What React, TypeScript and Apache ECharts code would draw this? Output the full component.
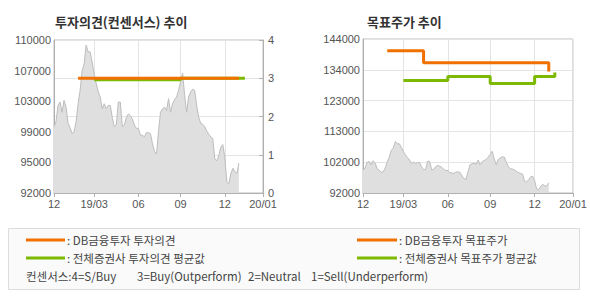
import React, { useEffect, useRef } from "react";
import * as echarts from "echarts";

// x axis: trading-day slots, labels at chosen slots
const slotCount = 105;
const tickIdx = [0, 20, 42, 63, 85, 104];
const tickLabels = ["12", "19/03", "06", "09", "12", "20/01"];

// stock price (same series in both panels)
const price = [
  99800, 100400, 102300, 102700, 101500, 102900, 102100, 100200, 99700, 99000,
  99200, 100400, 102500, 104100, 106400, 107200, 109400, 108600, 108600, 107400,
  106000, 104900, 103900, 103300, 101900, 102500, 101900, 102300, 102300, 100900,
  99800, 100000, 102700, 102700, 99800, 100000, 100900, 101300, 101100, 100700,
  100000, 99600, 99600, 98800, 98800, 98600, 99100, 99100, 99000, 97800,
  96900, 96600, 99200, 101500, 101900, 102100, 101700, 103100, 101500, 102500,
  103000, 103300, 104100, 105100, 106100, 103500, 101500, 103300, 103900, 104200,
  104100, 102300, 100900, 100200, 100100, 99800, 99300, 98900, 98600, 98400,
  96000, 95800, 96400, 97400, 97700, 96200, 93300, 93100, 94300, 94900,
  94500, 94300, 95500,
];

// left panel axis labels
const leftPriceLabels = ["92000", "95000", "99000", "103000", "107000", "110000"];
const opinionMin = 0;
const opinionMax = 4;

// right panel axis labels
const rightPriceLabels = ["92000", "102000", "113000", "123000", "134000", "144000"];

// investment opinion (step changes: slot, value)
const dbOpinionSlots = [12, 92];
const dbOpinionValues = [3, 3];
const avgOpinionSlots = [20, 63, 95];
const avgOpinionValues = [2.96, 3, 3];

// target price (step changes: slot, value)
const dbTargetSlots = [12, 30, 92];
const dbTargetValues = [140000, 136000, 133000];
const avgTargetSlots = [20, 42, 63, 85, 95];
const avgTargetValues = [130000, 131300, 129000, 131300, 132700];

const ORANGE = "#f07000";
const GREEN = "#7cb900";
const LABEL_FONT = "Liberation Sans, Arial, sans-serif";
const KR_FONT = "'Noto Sans CJK KR', sans-serif";

const pairs = (xs: number[], ys: number[]) => xs.map((x, i) => [x, ys[i]]);

export default function App() {
  const ref = useRef<HTMLDivElement>(null);
  useEffect(() => {
    if (!ref.current) return;
    const chart = echarts.init(ref.current, null, { renderer: "svg", width: 590, height: 300 });
    const cats = Array.from({ length: slotCount }, (_, i) => String(i));
    const showTick = (index: number) => tickIdx.includes(index);
    const xAxisBase = (gridIndex: number) => ({
      type: "category",
      gridIndex,
      data: cats,
      boundaryGap: false,
      axisLine: { lineStyle: { color: "#b0b0b0" } },
      axisTick: { interval: showTick, length: 4, lineStyle: { color: "#b0b0b0" } },
      axisLabel: {
        interval: showTick,
        formatter: (_v: string, i: number) => tickLabels[tickIdx.indexOf(i)] ?? "",
        color: "#555",
        fontSize: 11,
        fontFamily: LABEL_FONT,
        margin: 5,
      },
      splitLine: { show: true, interval: showTick, lineStyle: { color: "#e4e4e4" } },
    });

    const legendText = (x: number, y: number, text: string) => ({
      type: "text",
      x,
      y,
      style: { text, fontSize: 11.5, fontFamily: KR_FONT, fill: "#444", verticalAlign: "middle" },
    });

    const option: any = {
      animation: false,
      grid: [
        { left: 54, top: 40, width: 209, height: 153, show: true, borderColor: "#bdbdbd", borderWidth: 1 },
        { left: 363, top: 39, width: 210, height: 154, show: true, borderColor: "#bdbdbd", borderWidth: 1 },
      ],
      xAxis: [xAxisBase(0), xAxisBase(1)],
      yAxis: [
        {
          type: "category",
          gridIndex: 0,
          position: "left",
          data: leftPriceLabels,
          boundaryGap: false,
          axisLine: { lineStyle: { color: "#b0b0b0" } },
          axisTick: { show: false },
          axisLabel: { interval: 0, color: "#555", fontSize: 11, fontFamily: LABEL_FONT, margin: 3 },
          splitLine: { show: false },
        },
        {
          type: "value",
          gridIndex: 0,
          position: "right",
          min: opinionMin,
          max: opinionMax,
          interval: 1,
          axisLine: { show: true, lineStyle: { color: "#b0b0b0" } },
          axisTick: { show: true, inside: true, length: 4, lineStyle: { color: "#b0b0b0" } },
          axisLabel: { color: "#555", fontSize: 11, fontFamily: LABEL_FONT, margin: 5 },
          splitLine: { show: true, lineStyle: { color: "#e4e4e4" } },
        },
        { type: "value", gridIndex: 0, show: false, min: 92000, max: 110000 },
        {
          type: "category",
          gridIndex: 1,
          position: "left",
          data: rightPriceLabels,
          boundaryGap: false,
          axisLine: { lineStyle: { color: "#b0b0b0" } },
          axisTick: { show: false },
          axisLabel: { interval: 0, color: "#555", fontSize: 11, fontFamily: LABEL_FONT, margin: 3 },
          splitLine: { show: true, interval: 0, lineStyle: { color: "#e4e4e4" } },
        },
        { type: "value", gridIndex: 1, show: false, min: 92000, max: 144000 },
      ],
      series: [
        {
          type: "line",
          xAxisIndex: 0,
          yAxisIndex: 2,
          data: price,
          symbol: "none",
          lineStyle: { color: "#bdbdbd", width: 1 },
          areaStyle: { color: "#dfdfdf", opacity: 1 },
          z: 1,
        },
        {
          type: "line",
          xAxisIndex: 0,
          yAxisIndex: 1,
          data: pairs(avgOpinionSlots, avgOpinionValues),
          step: "end",
          symbol: "none",
          lineStyle: { color: GREEN, width: 3 },
          z: 3,
        },
        {
          type: "line",
          xAxisIndex: 0,
          yAxisIndex: 1,
          data: pairs(dbOpinionSlots, dbOpinionValues),
          step: "end",
          symbol: "none",
          lineStyle: { color: ORANGE, width: 3 },
          z: 4,
        },
        {
          type: "line",
          xAxisIndex: 1,
          yAxisIndex: 4,
          data: price,
          symbol: "none",
          lineStyle: { color: "#bdbdbd", width: 1 },
          areaStyle: { color: "#dfdfdf", opacity: 1 },
          z: 1,
        },
        {
          type: "line",
          xAxisIndex: 1,
          yAxisIndex: 4,
          data: pairs(dbTargetSlots, dbTargetValues),
          step: "end",
          symbol: "none",
          lineStyle: { color: ORANGE, width: 3 },
          z: 4,
        },
        {
          type: "line",
          xAxisIndex: 1,
          yAxisIndex: 4,
          data: pairs(avgTargetSlots, avgTargetValues),
          step: "end",
          symbol: "none",
          lineStyle: { color: GREEN, width: 3 },
          z: 3,
        },
      ],
      graphic: [
        {
          type: "text",
          x: 55,
          y: 21,
          style: { text: "투자의견(컨센서스) 추이", fontSize: 13, fontWeight: "bold", fontFamily: KR_FONT, fill: "#333", verticalAlign: "middle" },
        },
        {
          type: "text",
          x: 367,
          y: 21,
          style: { text: "목표주가 추이", fontSize: 13, fontWeight: "bold", fontFamily: KR_FONT, fill: "#333", verticalAlign: "middle" },
        },
        {
          type: "rect",
          shape: { x: 8.5, y: 228.5, width: 571, height: 61 },
          style: { fill: "#fafafa", stroke: "#dcdcdc", lineWidth: 1 },
        },
        { type: "line", shape: { x1: 26, y1: 240, x2: 65, y2: 240 }, style: { stroke: ORANGE, lineWidth: 3 } },
        { type: "line", shape: { x1: 26, y1: 258, x2: 65, y2: 258 }, style: { stroke: GREEN, lineWidth: 3 } },
        { type: "line", shape: { x1: 357, y1: 240, x2: 397, y2: 240 }, style: { stroke: ORANGE, lineWidth: 3 } },
        { type: "line", shape: { x1: 357, y1: 258, x2: 397, y2: 258 }, style: { stroke: GREEN, lineWidth: 3 } },
        legendText(67, 240, ": DB금융투자 투자의견"),
        legendText(67, 258, ": 전체증권사 투자의견 평균값"),
        legendText(399, 240, ": DB금융투자 목표주가"),
        legendText(399, 258, ": 전체증권사 목표주가 평균값"),
        legendText(26, 276, "컨센서스:4=S/Buy"),
        legendText(137, 276, "3=Buy(Outperform)"),
        legendText(248, 276, "2=Neutral"),
        legendText(311, 276, "1=Sell(Underperform)"),
      ],
    };
    chart.setOption(option);
    return () => chart.dispose();
  }, []);
  return (
    <div
      ref={ref}
      style={{ position: "absolute", left: 0, top: 0, width: 590, height: 300, background: "#fff" }}
    />
  );
}
